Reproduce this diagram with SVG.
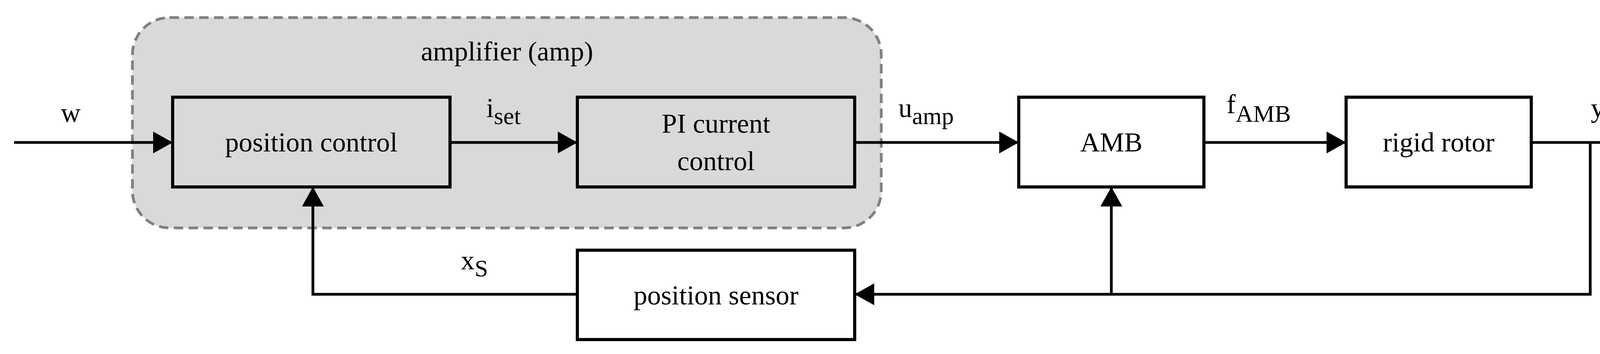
<svg xmlns="http://www.w3.org/2000/svg" width="4358" height="907" viewBox="0 0 4358 907">
<style>
.b{fill:#fff;stroke:#000;stroke-width:8}
.g{fill:#d9d9d9;stroke:#000;stroke-width:8}
.t{font-family:"Liberation Serif",serif;font-size:70px;fill:#000;text-anchor:middle}
.l{fill:none;stroke:#000;stroke-width:7}
</style>
<defs>
<marker id="h" viewBox="0 0 10 10" refX="10" refY="5" markerWidth="50" markerHeight="56" orient="auto" markerUnits="userSpaceOnUse" preserveAspectRatio="none"><path d="M0,0L10,5L0,10z"/></marker></defs>
<g id="amp"><rect x="339" y="45" width="1917" height="539" rx="95" fill="#d9d9d9" stroke="#808080" stroke-width="7" stroke-dasharray="24,14"/>
<text class="t" x="1298" y="155">amplifier (amp)</text></g>
<g id="pos"><rect class="g" x="442" y="249" width="710" height="230"/><text class="t" x="797" y="388">position control</text></g>
<g id="pi"><rect class="g" x="1478" y="249" width="710" height="230"/><text class="t" x="1833" y="340">PI current</text><text class="t" x="1833" y="436">control</text></g>
<g id="amb"><rect class="b" x="2608" y="249" width="474" height="230"/><text class="t" x="2845" y="388">AMB</text></g>
<g id="rotor"><rect class="b" x="3446" y="249" width="474" height="230"/><text class="t" x="3683" y="388">rigid rotor</text></g>
<g id="sensor"><rect class="b" x="1478" y="641" width="710" height="229"/><text class="t" x="1833" y="780">position sensor</text></g>
<g id="connectors">
<path class="l" d="M36,365H442" marker-end="url(#h)"/>
<path class="l" d="M1152,365H1478" marker-end="url(#h)"/>
<path class="l" d="M2188,365H2608" marker-end="url(#h)"/>
<path class="l" d="M3082,365H3446" marker-end="url(#h)"/>
<path class="l" d="M3920,365H4335" marker-end="url(#h)"/>
<path class="l" d="M4071,365V754H2188" marker-end="url(#h)"/>
<path class="l" d="M2845,754V479" marker-end="url(#h)"/>
<path class="l" d="M1478,754H801V479" marker-end="url(#h)"/>
</g>
<g id="labels">
<text class="t" x="181" y="312">w</text>
<text class="t" x="1245" y="300" style="text-anchor:start">i<tspan dy="18" font-size="62">set</tspan></text>
<text class="t" x="2300" y="300" style="text-anchor:start">u<tspan dy="18" font-size="62">amp</tspan></text>
<text class="t" x="3140" y="290" style="text-anchor:start">f<tspan dy="22" font-size="62">AMB</tspan></text>
<text class="t" x="4090" y="300">y</text>
<text class="t" x="1180" y="690" style="text-anchor:start">x<tspan dy="18" font-size="62">S</tspan></text>
</g>
</svg>
